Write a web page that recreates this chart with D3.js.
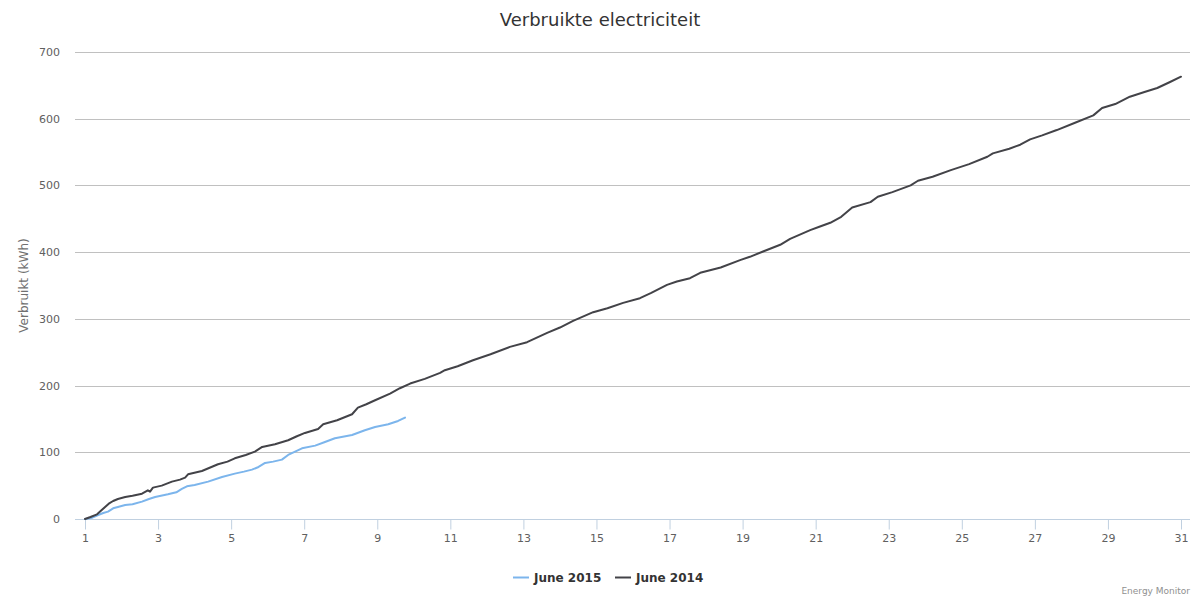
<!DOCTYPE html>
<html>
<head>
<meta charset="utf-8">
<script src="https://cdn.jsdelivr.net/npm/d3@7"></script>
<style>
  html, body { margin: 0; padding: 0; background: #fff; }
  svg { display: block; font-family: "DejaVu Sans", sans-serif; }
</style>
</head>
<body>
<svg id="chart" width="1200" height="600"></svg>
<script>
// ---- Data ----
const xTicks = [1, 3, 5, 7, 9, 11, 13, 15, 17, 19, 21, 23, 25, 27, 29, 31];
const yTicks = [0, 100, 200, 300, 400, 500, 600, 700];

const days2015 = [1, 1.2, 1.36, 1.5, 1.63, 1.77, 1.9, 2.1, 2.3, 2.56, 2.75, 2.92, 3.27, 3.5, 3.65, 3.79, 4.0, 4.37, 4.75, 5.1, 5.35, 5.57, 5.75, 5.93, 6.15, 6.39, 6.56, 6.75, 6.94, 7.3, 7.55, 7.84, 8.31, 8.66, 8.94, 9.3, 9.57, 9.76];
const kwh2015 = [0, 2, 6, 9, 11, 16, 18, 21, 22, 26, 30, 33, 37, 40, 45, 49, 51, 56, 63, 68, 71, 74, 78, 84, 86, 89, 96, 101, 106, 110, 115, 121, 126, 133, 138, 142, 147, 152];

const days2014 = [1, 1.15, 1.33, 1.45, 1.55, 1.65, 1.77, 1.9, 2.1, 2.3, 2.56, 2.72, 2.78, 2.86, 3.1, 3.38, 3.6, 3.74, 3.82, 4.2, 4.64, 4.9, 5.1, 5.4, 5.65, 5.85, 6.2, 6.56, 6.8, 7.02, 7.38, 7.52, 7.9, 8.31, 8.47, 8.7, 8.94, 9.35, 9.62, 9.9, 10.3, 10.72, 10.85, 11.2, 11.62, 12.1, 12.63, 13.1, 13.65, 14.0, 14.36, 14.91, 15.3, 15.73, 16.19, 16.5, 16.93, 17.2, 17.56, 17.84, 18.4, 18.93, 19.2, 19.56, 20.03, 20.3, 20.85, 21.1, 21.4, 21.7, 22.0, 22.5, 22.7, 23.1, 23.6, 23.8, 24.2, 24.7, 25.2, 25.7, 25.85, 26.3, 26.6, 26.87, 27.2, 27.6, 28.1, 28.6, 28.84, 29.2, 29.6, 30.0, 30.35, 30.7, 31.0];
const kwh2014 = [0, 3, 7, 13, 18, 23, 27, 30, 33, 35, 38, 43, 41, 47, 50, 56, 59, 62, 67, 72, 82, 86, 91, 96, 101, 108, 112, 118, 124, 129, 135, 142, 148, 157, 167, 172, 178, 188, 196, 203, 210, 219, 223, 229, 238, 247, 258, 265, 279, 287, 297, 310, 316, 324, 331, 339, 351, 356, 361, 369, 377, 388, 393, 401, 411, 420, 433, 438, 444, 453, 467, 475, 483, 490, 500, 507, 513, 523, 532, 543, 548, 555, 561, 569, 575, 583, 594, 605, 616, 622, 633, 640, 646, 655, 663];

const seriesNames = ["June 2015", "June 2014"];
const seriesColors = ["#7cb5ec", "#434348"];
const titleText = "Verbruikte electriciteit";
const yTitle = "Verbruikt (kWh)";
const creditText = "Energy Monitor";

// ---- Layout ----
const svg = d3.select("#chart");
const plot = { left: 75, right: 1190, top: 52, bottom: 519 };

const x = d3.scaleLinear()
  .domain([1, 31])
  .range([85, 1181]);
const y = d3.scaleLinear()
  .domain([0, 700])
  .range([plot.bottom, plot.top]);

// Title
svg.append("text")
  .attr("x", 600).attr("y", 26)
  .attr("text-anchor", "middle")
  .attr("font-size", 18)
  .attr("fill", "#333333")
  .text(titleText);

// Grid lines
svg.append("g").selectAll("line")
  .data(yTicks.filter(d => d > 0))
  .join("line")
  .attr("x1", plot.left).attr("x2", plot.right)
  .attr("y1", d => Math.round(y(d)) + 0.5).attr("y2", d => Math.round(y(d)) + 0.5)
  .attr("stroke", "#C0C0C0").attr("stroke-width", 1);

// Y axis labels
const yAxis = d3.axisLeft(y).tickValues(yTicks).tickSize(0).tickPadding(15).tickFormat(d3.format("d"));
const gy = svg.append("g").attr("transform", `translate(${plot.left},0)`).call(yAxis);
gy.select(".domain").remove();
gy.selectAll("text").attr("font-size", 11).attr("fill", "#606060").attr("font-family", "DejaVu Sans, sans-serif");

// Y axis title
svg.append("text")
  .attr("transform", `translate(28,${(plot.top + plot.bottom) / 2}) rotate(-90)`)
  .attr("text-anchor", "middle")
  .attr("font-size", 12)
  .attr("fill", "#707070")
  .text(yTitle);

// X axis
const xAxis = d3.axisBottom(x).tickValues(xTicks).tickSize(10).tickPadding(5).tickFormat(d3.format("d"));
const gx = svg.append("g").attr("transform", `translate(0,${plot.bottom + 0.5})`).call(xAxis);
gx.select(".domain").attr("d", `M${plot.left},0H${plot.right}`).attr("stroke", "#C0D0E0");
gx.selectAll(".tick line").attr("stroke", "#C0D0E0");
gx.selectAll("text").attr("font-size", 11).attr("fill", "#606060").attr("font-family", "DejaVu Sans, sans-serif");

// Lines
const line = d3.line().x(d => x(d[0])).y(d => y(d[1]));
const series = [
  d3.zip(days2015, kwh2015),
  d3.zip(days2014, kwh2014)
];
series.forEach((s, i) => {
  svg.append("path")
    .datum(s)
    .attr("d", line)
    .attr("fill", "none")
    .attr("stroke", seriesColors[i])
    .attr("stroke-width", 2)
    .attr("stroke-linejoin", "round")
    .attr("stroke-linecap", "round");
});

// Legend
const legendItems = [
  { name: seriesNames[0], color: seriesColors[0], x: 513 },
  { name: seriesNames[1], color: seriesColors[1], x: 615 }
];
const lg = svg.append("g");
legendItems.forEach(it => {
  lg.append("line")
    .attr("x1", it.x).attr("x2", it.x + 16)
    .attr("y1", 577.5).attr("y2", 577.5)
    .attr("stroke", it.color).attr("stroke-width", 2);
  lg.append("text")
    .attr("x", it.x + 21).attr("y", 582)
    .attr("font-size", 12).attr("font-weight", "600")
    .attr("fill", "#333333")
    .text(it.name);
});

// Credits
svg.append("text")
  .attr("x", 1190).attr("y", 594)
  .attr("text-anchor", "end")
  .attr("font-size", 9)
  .attr("fill", "#909090")
  .text(creditText);
</script>
</body>
</html>
